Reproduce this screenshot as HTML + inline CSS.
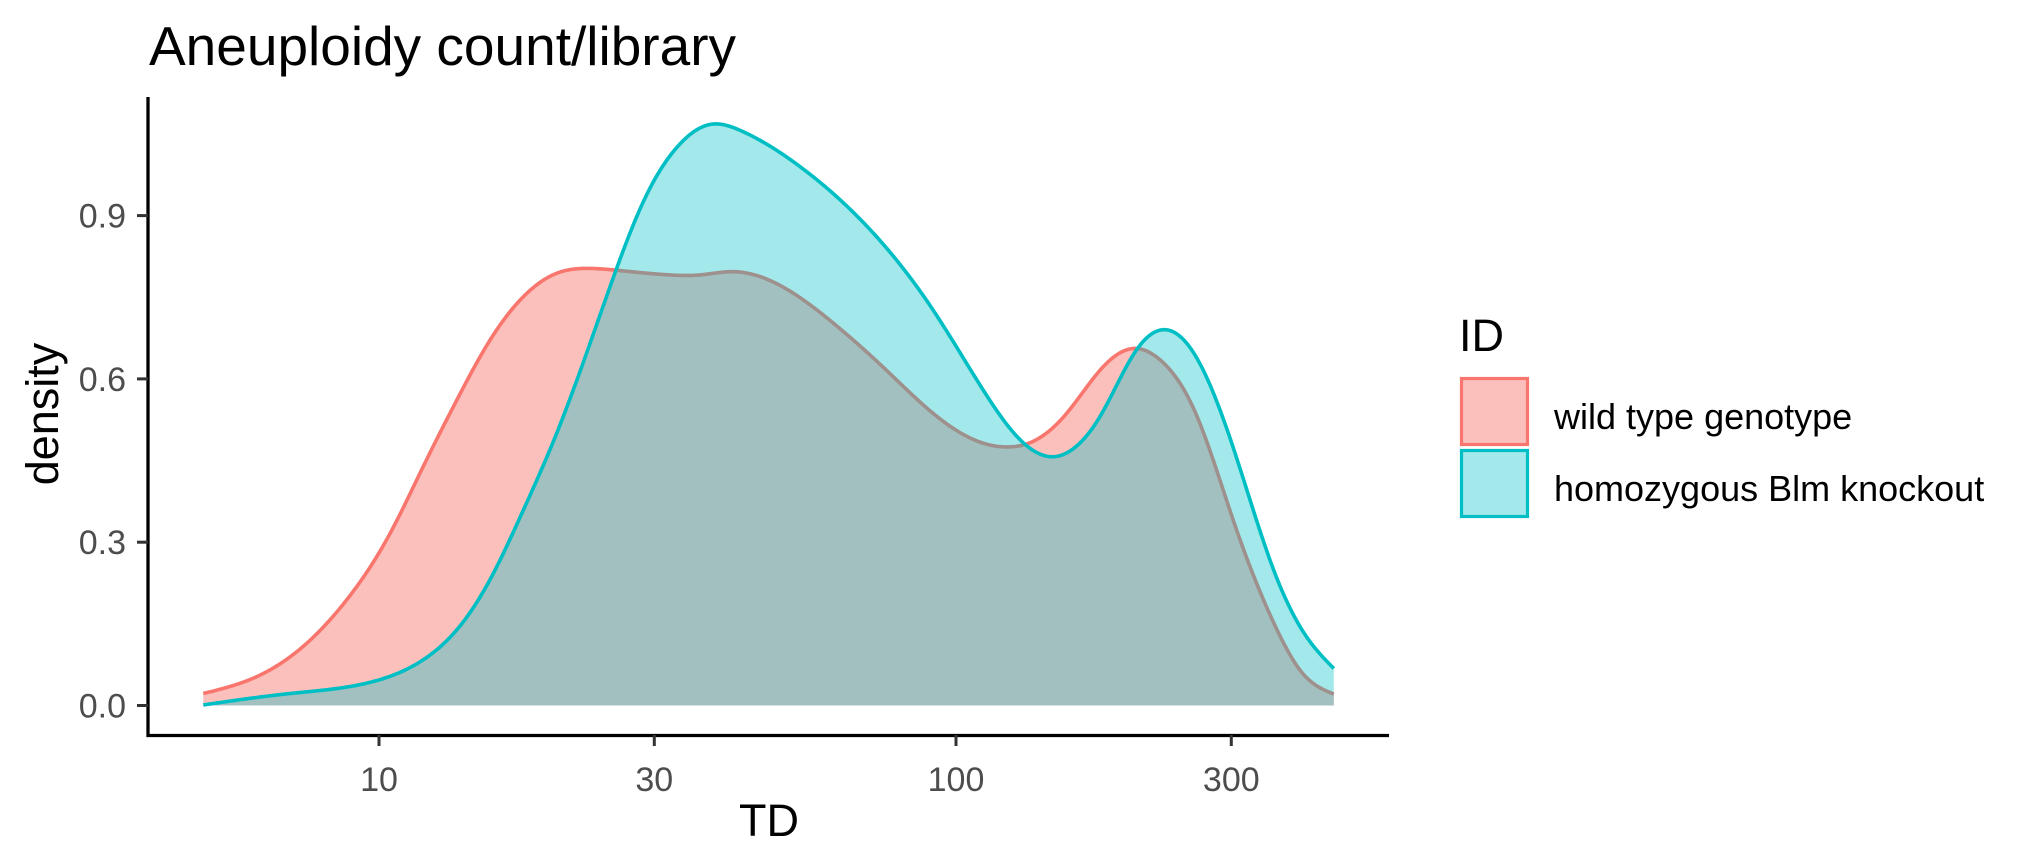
<!DOCTYPE html>
<html><head><meta charset="utf-8">
<style>
html,body{margin:0;padding:0;background:#fff;}
svg{display:block;font-family:"Liberation Sans",Arial,sans-serif;}
</style></head>
<body>
<svg id="chart" width="2037" height="866" viewBox="0 0 2037 866">
  <text x="149" y="65" font-size="55" fill="#000">Aneuploidy count/library</text>
  <g id="plot"></g>
  <g id="axes"></g>
  <text x="769" y="836" font-size="45" text-anchor="middle" fill="#000">TD</text>
  <text x="0" y="0" font-size="45" text-anchor="middle" fill="#000" transform="translate(58,414) rotate(-90)">density</text>
  <g>
    <text x="1459" y="351" font-size="45" fill="#000">ID</text>
    <g>
      <rect x="1461.5" y="378.5" width="66" height="66" fill="rgba(248,118,109,0.46)" stroke="#F8766D" stroke-width="3.2"/>
      <text x="1554" y="429" font-size="36" fill="#000">wild type genotype</text>
    </g>
    <g>
      <rect x="1461.5" y="450.5" width="66" height="66" fill="rgba(0,191,196,0.36)" stroke="#00BFC4" stroke-width="3.2"/>
      <text x="1554" y="501" font-size="36" fill="#000">homozygous Blm knockout</text>
    </g>
  </g>
</svg>
<script>
const wildTypeTD = [4.96,6.14,7.49,8.79,10.45,11.93,13.64,15.57,17.79,20.32,23.21,26.18,31.93,35.98,41.1,50.1,61.2,74.7,91.2,111.4,122.5,135.9,155.6,177.7,204.8,225.2,259.5,304,356.4,398.1,451.6];
const wildTypeDensity = [0.022,0.053,0.114,0.194,0.316,0.439,0.561,0.671,0.751,0.794,0.803,0.799,0.791,0.791,0.797,0.769,0.703,0.622,0.537,0.482,0.475,0.485,0.537,0.616,0.656,0.636,0.540,0.333,0.149,0.060,0.021];
const blmTD = [4.96,7.01,9.77,11.93,13.64,15.57,17.79,20.32,23.21,25.0,29.12,32.93,37.77,42.17,53.5,73.3,91.2,111.4,127.6,147.2,166,177.7,204.8,232.4,259.5,304,356.4,404.6,451.6];
const blmDensity = [0.001,0.022,0.044,0.084,0.139,0.231,0.359,0.500,0.665,0.762,0.939,1.027,1.068,1.057,0.991,0.858,0.727,0.580,0.494,0.457,0.488,0.531,0.651,0.690,0.644,0.466,0.245,0.127,0.068];
const xTicks = [10,30,100,300];
const xTickLabels = ["10","30","100","300"];
const yTicks = [0,0.3,0.6,0.9];
const yTickLabels = ["0.0","0.3","0.6","0.9"];

const NS = "http://www.w3.org/2000/svg";
function xScale(v){ return 379 + (Math.log10(v) - 1) * 577; }
function yScale(d){ return 705.5 - d / 0.3 * 163.3; }

function splinePoints(xs, ys){
  const n = xs.length, h = [], a = [], l = [1], mu = [0], z = [0], c = new Array(n).fill(0), b = [], d = [];
  for (let i=0;i<n-1;i++) h.push(xs[i+1]-xs[i]);
  for (let i=1;i<n-1;i++) a[i] = 3/h[i]*(ys[i+1]-ys[i]) - 3/h[i-1]*(ys[i]-ys[i-1]);
  for (let i=1;i<n-1;i++){ l[i]=2*(xs[i+1]-xs[i-1])-h[i-1]*mu[i-1]; mu[i]=h[i]/l[i]; z[i]=(a[i]-h[i-1]*z[i-1])/l[i]; }
  for (let j=n-2;j>=0;j--){ c[j]=(j<n-1?z[j]:0)-mu[j]*c[j+1]; b[j]=(ys[j+1]-ys[j])/h[j]-h[j]*(c[j+1]+2*c[j])/3; d[j]=(c[j+1]-c[j])/(3*h[j]); }
  const out = [];
  for (let j=0;j<n-1;j++){
    const steps = Math.max(4, Math.ceil(h[j]/2));
    for (let s=0;s<steps;s++){ const t=h[j]*s/steps; out.push([xs[j]+t, ys[j]+b[j]*t+c[j]*t*t+d[j]*t*t*t]); }
  }
  out.push([xs[n-1], ys[n-1]]);
  return out;
}

const plot = document.getElementById("plot");
function drawSeries(xs, vals, fill, stroke, name){
  const px = xs.map(t=>xScale(t)), py = vals.map(v=>yScale(v));
  const pts = splinePoints(px, py);
  const line = "M" + pts.map(p=>p[0].toFixed(2)+","+Math.min(p[1],yScale(0)).toFixed(2)).join(" L");
  const area = document.createElementNS(NS,"path");
  area.setAttribute("d", line + " L" + px[px.length-1].toFixed(2) + "," + yScale(0) + " L" + px[0].toFixed(2) + "," + yScale(0) + " Z");
  area.setAttribute("fill", fill);
  
  
  plot.appendChild(area);
  const ln = document.createElementNS(NS,"path");
  ln.setAttribute("d", line);
  ln.setAttribute("fill","none");
  ln.setAttribute("stroke", stroke);
  ln.setAttribute("stroke-width","3.6");
  ln.setAttribute("stroke-linejoin","round");
  
  
  plot.appendChild(ln);
}
drawSeries(wildTypeTD, wildTypeDensity, "rgba(248,118,109,0.46)", "#F8766D", "wild-type");
drawSeries(blmTD, blmDensity, "rgba(0,191,196,0.36)", "#00BFC4", "blm-knockout");

const axes = document.getElementById("axes");
function mk(tag, attrs){ const e=document.createElementNS(NS,tag); for (const k in attrs) e.setAttribute(k, attrs[k]); axes.appendChild(e); return e; }
const yAxis = mk("line",{x1:148,y1:97,x2:148,y2:737,stroke:"#000","stroke-width":3.3});


const xAxis = mk("line",{x1:146.5,y1:735.5,x2:1389,y2:735.5,stroke:"#000","stroke-width":3.3});


yTicks.forEach((v,i)=>{
  const y = yScale(v);
  const t = mk("line",{x1:137,y1:y,x2:148,y2:y,stroke:"#333","stroke-width":3});
  
  
  const l = mk("text",{x:126,y:y+12,"font-size":34,"text-anchor":"end",fill:"#4d4d4d"});
  l.textContent = yTickLabels[i];
  
  
});
xTicks.forEach((v,i)=>{
  const x = xScale(v);
  const t = mk("line",{x1:x,y1:735,x2:x,y2:746,stroke:"#333","stroke-width":3});
  
  
  const l = mk("text",{x:x,y:791,"font-size":34,"text-anchor":"middle",fill:"#4d4d4d"});
  l.textContent = xTickLabels[i];
  
  
});
</script>
</body></html>
